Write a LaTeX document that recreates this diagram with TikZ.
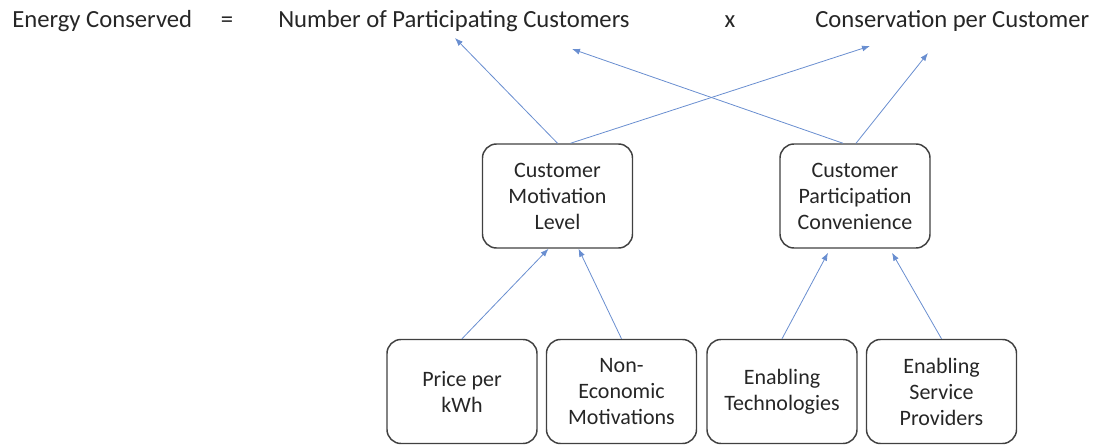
\documentclass[tikz,border=0pt]{standalone}
\usepackage{fontspec}
\setmainfont{Carlito}
\usetikzlibrary{arrows.meta}
\usetikzlibrary{positioning}

\definecolor{boxLine}{RGB}{64,64,64}
\definecolor{arrowBlue}{RGB}{68,114,196}

\begin{document}
\begin{tikzpicture}
[x=0.75pt,y=-0.75pt,%
  boxDecorate/.style={draw=boxLine,line width=1.1pt,rounded corners=10.5pt,
    minimum width=112.5pt,minimum height=78pt,align=center,text=black!85,
    font=\fontsize{16.5pt}{19.5pt}\selectfont},%
  termDecorate/.style={anchor=base,inner sep=0pt,text=black!85,font=\fontsize{18.5pt}{22pt}\selectfont},%
  lineDecorate/.style={draw=arrowBlue!80,line width=0.6pt,-{Latex[length=6pt,width=4.5pt]}}]
\useasboundingbox (0,0) rectangle (1095,445);
%% equation on top
\node[termDecorate,anchor=base west] (energy) at (12,28) {Energy Conserved};
\node[termDecorate] (equals) at (227,28) {=};
\node[termDecorate,anchor=base west] (number) at (278,28) {Number of Participating Customers};
\node[termDecorate] (times) at (730,28) {x};
\node[termDecorate,anchor=base west] (perCust) at (815,28) {Conservation per Customer};
%% arrow ends below the equation
\coordinate (numA) at (455,38);
\coordinate (numB) at (572,49);
\coordinate (consA) at (870,46);
\coordinate (consB) at (928,53);
%% middle level
\node[boxDecorate] (motivation) at (557.5,196) {Customer\\Motivation\\Level};
\node[boxDecorate] (convenience) at (855,196) {Customer\\Participation\\Convenience};
%% bottom level
\foreach \nodename/\x/\label in {
  price/462/{Price per\\kWh}, nonEcon/621.5/{Non-\\Economic\\Motivations},
  technology/782/{Enabling\\Technologies}, provider/941.5/{Enabling\\Service\\Providers}}
{
  \node[boxDecorate] (\nodename) at (\x,391.5) {\label};
}
%% connect the levels
\path
(price.north) edge[lineDecorate] ([xshift=-6.75pt]motivation.south)
(nonEcon.north) edge[lineDecorate] ([xshift=15.75pt]motivation.south)
(technology.north) edge[lineDecorate] ([xshift=-20.25pt,yshift=-3pt]convenience.south)
(provider.north) edge[lineDecorate] ([xshift=27.75pt,yshift=-3pt]convenience.south)
(motivation.north) edge[lineDecorate] (numA)
([xshift=9.75pt]motivation.north) edge[lineDecorate] (consA)
([xshift=-9pt]convenience.north) edge[lineDecorate] (numB)
([xshift=0.75pt]convenience.north) edge[lineDecorate] (consB);
\end{tikzpicture}
\end{document}
